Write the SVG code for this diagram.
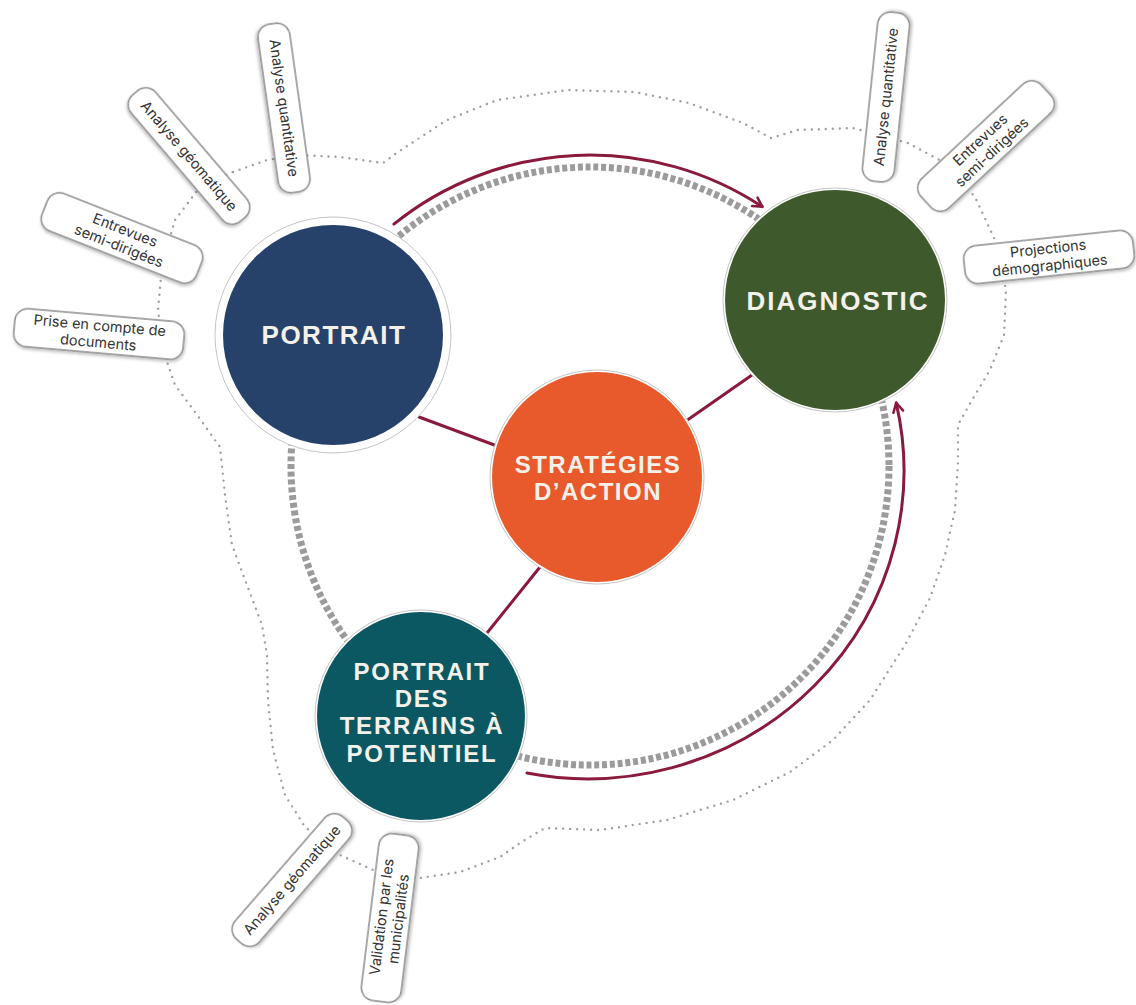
<svg xmlns="http://www.w3.org/2000/svg" width="1136" height="1005" viewBox="0 0 1136 1005">
<defs>
<style>
.outline{fill:none;stroke:#9e9e9e;stroke-width:2.4;stroke-dasharray:0 7;stroke-linecap:round;stroke-linejoin:round}
.ring{fill:none;stroke:#9b9b9b;stroke-width:7;stroke-dasharray:5 2.8}
.red{fill:none;stroke:#8a1a3c;stroke-width:3;stroke-linecap:round}
.box rect{fill:#ffffff;stroke:#8c8c8c;stroke-width:1.5}
.box text{font-family:Inter,"Open Sans","Liberation Sans",sans-serif;font-size:14.5px;fill:#333333;text-anchor:middle}
.nl{font-family:"Liberation Sans",Arial,sans-serif;font-weight:bold;fill:#f4f1ea;text-anchor:middle}
.edge{fill:#ffffff;stroke:#c4c4c4;stroke-width:1}
</style>
<filter id="sh" x="-20%" y="-40%" width="140%" height="180%">
<feDropShadow dx="1" dy="2" stdDeviation="1.5" flood-color="#000" flood-opacity="0.25"/>
</filter>
<marker id="arr" viewBox="-11 -7 14 14" refX="0" refY="0" markerWidth="14" markerHeight="14" markerUnits="userSpaceOnUse" orient="auto">
<path d="M-9,-5 L0,0 L-9,5" fill="none" stroke="#8a1a3c" stroke-width="2.5" stroke-linecap="round" stroke-linejoin="round"/>
</marker>
</defs>
<rect width="1136" height="1005" fill="#ffffff"/>

<g id="outline">
<path class="outline" d="M233,172 L267,160 L300,155 L340,157 L383,163 L398,152 L447,120 L497,100 L568,90 L634,92 L689,103 L743,123 L771,138 L798,130 L853,128 L908,143 L945,163 L975,197 L995,240 L1006,290 L1004,335 L990,370 L972,400 L958,425 L958,463 L955,510 L945,555 L930,598 L905,645 L870,700 L833,740 L790,772 L733,800 L667,820 L600,830 L545,828 L520,843 L500,857 L460,872 L420,878 L373,870 L340,855 L305,827 L285,795 L273,750 L268,700 L267,655 L262,625 L247,585 L232,545 L225,495 L220,447 L195,412 L175,385 L163,350 L158,310 L162,265 L175,220 L200,187 Z"/>
</g>

<g id="connectors">
<circle class="ring" cx="590" cy="466" r="299"/>
<path class="red" d="M393.9,224.1 A313,313 0 0 1 762.3,206.7" marker-end="url(#arr)"/>
<path class="red" d="M527,773 A316,308 0 0 0 896.2,402.9" marker-end="url(#arr)"/>
<line class="red" x1="419" y1="417" x2="497" y2="446"/>
<line class="red" x1="686" y1="421" x2="752" y2="375"/>
<line class="red" x1="540" y1="567" x2="487" y2="633"/>
</g>

<g id="node-portrait">
<circle class="edge" cx="333" cy="335" r="118"/>
<circle cx="333" cy="335" r="110" fill="#27426a"/>
<text class="nl" x="334" y="344" font-size="26" letter-spacing="1.5">PORTRAIT</text>
</g>

<g id="node-diagnostic">
<circle class="edge" cx="835" cy="300" r="112"/>
<circle cx="835" cy="300" r="110" fill="#3e5a2c"/>
<text class="nl" x="838" y="310" font-size="26" letter-spacing="2">DIAGNOSTIC</text>
</g>

<g id="node-strategies">
<circle class="edge" cx="597" cy="477" r="107"/>
<circle cx="597" cy="477" r="105" fill="#e8592b"/>
<text class="nl" x="598" y="473" font-size="24" letter-spacing="1.5">STRATÉGIES</text>
<text class="nl" x="598" y="500" font-size="24" letter-spacing="1.5">D’ACTION</text>
</g>

<g id="node-terrains">
<circle class="edge" cx="421" cy="716" r="106"/>
<circle cx="421" cy="716" r="104" fill="#0b5862"/>
<text class="nl" x="422" y="680" font-size="24" letter-spacing="1.8">PORTRAIT</text>
<text class="nl" x="422" y="707" font-size="24" letter-spacing="1.8">DES</text>
<text class="nl" x="422" y="734" font-size="24" letter-spacing="1.8">TERRAINS À</text>
<text class="nl" x="422" y="762" font-size="24" letter-spacing="1.8">POTENTIEL</text>
</g>

<g id="label-portrait-quantitative" class="box" transform="translate(284,108) rotate(82)">
<rect x="-85" y="-16" width="170" height="32" rx="13" filter="url(#sh)"/>
<text x="0" y="5">Analyse quantitative</text>
</g>
<g id="label-portrait-geomatique" class="box" transform="translate(189,156) rotate(49.5)">
<rect x="-83" y="-16" width="166" height="32" rx="13" filter="url(#sh)"/>
<text x="0" y="5">Analyse géomatique</text>
</g>
<g id="label-portrait-entrevues" class="box" transform="translate(122,238) rotate(21.5)">
<rect x="-83" y="-20" width="166" height="40" rx="13" filter="url(#sh)"/>
<text x="0" y="-3.5">Entrevues</text>
<text x="0" y="13.5">semi-dirigées</text>
</g>
<g id="label-portrait-documents" class="box" transform="translate(99,334) rotate(5)">
<rect x="-85" y="-19" width="170" height="38" rx="13" filter="url(#sh)"/>
<text x="0" y="-3.5">Prise en compte de</text>
<text x="0" y="13.5">documents</text>
</g>

<g id="label-diagnostic-quantitative" class="box" transform="translate(886,97) rotate(-84)">
<rect x="-85" y="-16" width="170" height="32" rx="13" filter="url(#sh)"/>
<text x="0" y="5">Analyse quantitative</text>
</g>
<g id="label-diagnostic-entrevues" class="box" transform="translate(986,146) rotate(-43)">
<rect x="-82" y="-20" width="164" height="40" rx="13" filter="url(#sh)"/>
<text x="0" y="-3.5">Entrevues</text>
<text x="0" y="13.5">semi-dirigées</text>
</g>
<g id="label-diagnostic-projections" class="box" transform="translate(1049,257) rotate(-6)">
<rect x="-85" y="-19" width="170" height="38" rx="13" filter="url(#sh)"/>
<text x="0" y="-3.5">Projections</text>
<text x="0" y="13.5">démographiques</text>
</g>

<g id="label-terrains-geomatique" class="box" transform="translate(292,880) rotate(-49)">
<rect x="-81" y="-16" width="162" height="32" rx="13" filter="url(#sh)"/>
<text x="0" y="5">Analyse géomatique</text>
</g>
<g id="label-terrains-validation" class="box" transform="translate(390,918) rotate(-83)">
<rect x="-84" y="-20" width="168" height="40" rx="13" filter="url(#sh)"/>
<text x="0" y="-3.5">Validation par les</text>
<text x="0" y="13.5">municipalités</text>
</g>
</svg>
